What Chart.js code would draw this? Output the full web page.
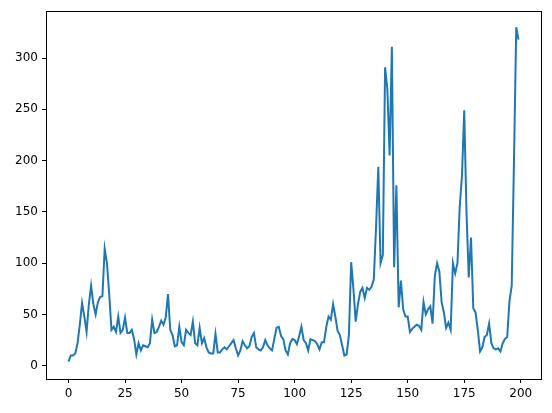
<!DOCTYPE html>
<html>
<head>
<meta charset="utf-8">
<script src="https://cdn.jsdelivr.net/npm/chart.js@4/dist/chart.umd.min.js"></script>
<style>
  html, body { margin: 0; padding: 0; background: #fff; }
  #wrap { width: 552px; height: 413px; }
</style>
</head>
<body>
<div id="wrap"><canvas id="chart" width="552" height="413"></canvas></div>
<script>
// values, one per index 0..199
const values = [
  4, 10, 10, 12, 22, 40, 61, 48, 33, 60,
  78, 60, 50, 62, 67, 68, 114, 100, 70, 35,
  38, 33, 48, 32, 35, 47, 32, 32, 35, 26,
  11, 22, 15, 20, 19, 18, 22, 45, 32, 33,
  38, 44, 40, 47, 70, 35, 30, 19, 20, 38,
  23, 20, 35, 32, 30, 43, 22, 20, 37, 22,
  27, 18, 13, 12, 12, 31, 13, 13, 16, 18,
  16, 19, 22, 25, 17, 10, 15, 24, 20, 17,
  19, 28, 32, 18, 16, 15, 18, 25, 20, 17,
  15, 26, 37, 38, 29, 26, 15, 11, 22, 26,
  25, 21, 29, 38, 25, 22, 15, 26, 25, 24,
  21, 16, 23, 23, 38, 48, 45, 60, 48, 34,
  30, 20, 10, 11, 30, 101, 75, 43, 60, 72,
  76, 66, 76, 74, 77, 84, 135, 194, 100, 108,
  291, 270, 205, 311, 96, 176, 57, 83, 55, 48,
  48, 33, 36, 38, 40, 39, 35, 62, 50, 55,
  58, 41, 88, 100, 92, 62, 52, 37, 42, 35,
  100, 90, 100, 155, 185, 249, 150, 86, 125, 56,
  52, 35, 14, 18, 28, 30, 41, 22, 17, 16,
  17, 14, 22, 26, 28, 63, 78, 200, 330, 318
];
const xTicks = [0, 25, 50, 75, 100, 125, 150, 175, 200];
const yTicks = [0, 50, 100, 150, 200, 250, 300];

const points = values.map((v, i) => ({ x: i, y: v }));

// box around the plot area, like a matplotlib axes frame
const frame = {
  id: 'frame',
  afterDraw(chart) {
    const { ctx, chartArea: a } = chart;
    ctx.save();
    ctx.strokeStyle = '#000';
    ctx.lineWidth = 1;
    ctx.strokeRect(Math.round(a.left) + 0.5, Math.round(a.top) + 0.5,
      Math.round(a.right - a.left), Math.round(a.bottom - a.top));
    ctx.restore();
  }
};

const tickFont = { family: 'DejaVu Sans', size: 12 };

new Chart(document.getElementById('chart'), {
  type: 'line',
  data: {
    datasets: [{
      data: points,
      borderColor: '#1f77b4',
      borderWidth: 2,
      pointRadius: 0,
      tension: 0,
      fill: false
    }]
  },
  options: {
    responsive: false,
    animation: false,
    devicePixelRatio: 1,
    layout: { padding: { top: 10, right: 11, left: 0, bottom: 0 } },
    plugins: { legend: { display: false }, tooltip: { enabled: false } },
    scales: {
      x: {
        type: 'linear',
        min: -9.95,
        max: 208.95,
        afterBuildTicks: s => { s.ticks = xTicks.map(v => ({ value: v })); },
        afterFit: s => { s.height = 34; },
        grid: { drawOnChartArea: false, drawTicks: true, tickLength: 4, color: '#000' },
        border: { display: false },
        ticks: { color: '#000', font: tickFont, padding: 4, maxRotation: 0 }
      },
      y: {
        min: -12.9,
        max: 345.7,
        afterBuildTicks: s => { s.ticks = yTicks.map(v => ({ value: v })); },
        afterFit: s => { s.width = 46; },
        grid: { drawOnChartArea: false, drawTicks: true, tickLength: 4, color: '#000' },
        border: { display: false },
        ticks: { color: '#000', font: tickFont, padding: 4 }
      }
    }
  },
  plugins: [frame]
});
</script>
</body>
</html>
